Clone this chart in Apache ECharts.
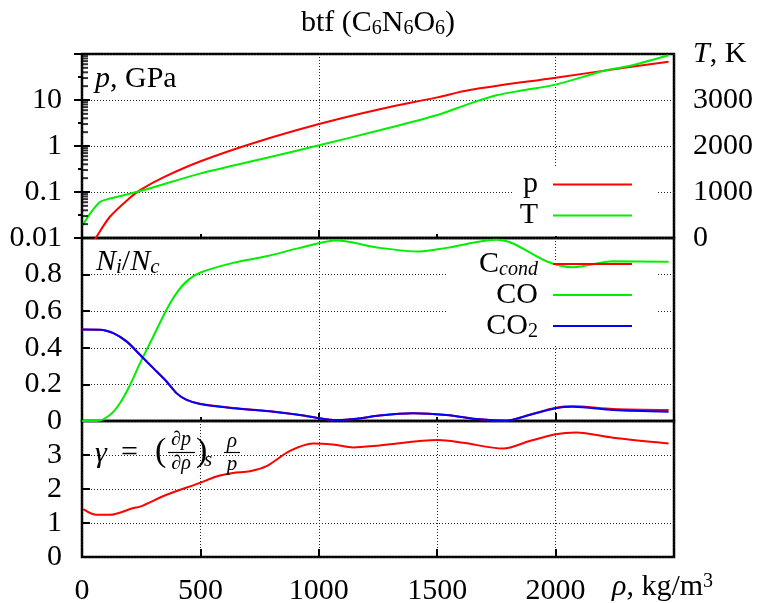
<!DOCTYPE html>
<html><head><meta charset="utf-8">
<script src="https://cdn.jsdelivr.net/npm/echarts@6/dist/echarts.min.js"></script>
<style>html,body{margin:0;padding:0;background:#fff}#c{width:760px;height:603px}</style>
</head><body><div id="c"></div>
<script>
// ---------- data ----------
const rhoP   = [40, 58, 118, 200, 245, 350, 498, 722, 1001, 1257, 1500, 1637, 2000, 2312, 2477];
const pGPa   = [0.007, 0.01, 0.029, 0.073, 0.11, 0.215, 0.46, 1.15, 3.0, 6.3, 11.4, 16.5, 30.5, 52, 68];

const rhoT   = [3, 34, 76, 118, 258, 498, 750, 1001, 1257, 1497, 1637, 1750, 1863, 2000, 2214, 2325, 2477];
const tK     = [276, 530, 783, 857, 1037, 1400, 1707, 2015, 2341, 2667, 2922, 3102, 3210, 3334, 3645, 3754, 3971];

const rhoCO  = [0, 62, 118, 160, 203, 245, 301, 357, 400, 442, 498, 638, 779, 920, 1075, 1257, 1426, 1539, 1750, 1820, 1961, 2073, 2242, 2477];
const nCO    = [0, 0, 0.033, 0.097, 0.197, 0.316, 0.462, 0.608, 0.70, 0.763, 0.81, 0.864, 0.90, 0.946, 0.986, 0.946, 0.926, 0.946, 0.99, 0.97, 0.873, 0.84, 0.873, 0.87];

const rhoCO2 = [0, 76, 132, 188, 245, 301, 357, 400, 442, 498, 638, 807, 920, 1001, 1075, 1160, 1257, 1398, 1539, 1679, 1792, 1890, 2000, 2073, 2242, 2477];
const nCO2   = [0.5, 0.499, 0.48, 0.435, 0.362, 0.289, 0.216, 0.151, 0.115, 0.093, 0.07, 0.051, 0.033, 0.015, 0.005, 0.012, 0.03, 0.042, 0.033, 0.009, 0.002, 0.033, 0.07, 0.078, 0.06, 0.051];

const rhoCc  = [0, 76, 132, 188, 245, 301, 357, 400, 442, 498, 638, 807, 920, 1001, 1075, 1160, 1257, 1398, 1539, 1679, 1792, 1890, 2000, 2073, 2242, 2477];
const nCcond = [0.5, 0.499, 0.48, 0.435, 0.362, 0.289, 0.216, 0.151, 0.115, 0.094, 0.071, 0.052, 0.033, 0.015, 0.005, 0.012, 0.03, 0.042, 0.033, 0.009, 0.002, 0.034, 0.072, 0.08, 0.066, 0.06];

const rhoG   = [5, 62, 118, 217, 245, 357, 498, 568, 638, 709, 779, 878, 976, 1060, 1145, 1257, 1503, 1609, 1778, 1890, 2000, 2087, 2242, 2477];
const gammaV = [1.41, 1.24, 1.24, 1.44, 1.48, 1.83, 2.18, 2.37, 2.47, 2.52, 2.67, 3.12, 3.34, 3.31, 3.22, 3.28, 3.44, 3.36, 3.19, 3.41, 3.61, 3.66, 3.51, 3.34];

// tick values
const pMinorTicks = [0.02,0.03,0.04,0.05,0.06,0.07,0.08,0.09, 0.2,0.3,0.4,0.5,0.6,0.7,0.8,0.9, 2,3,4,5,6,7,8,9, 20,30,40,50,60,70,80,90];

// ---------- styling ----------
const FONT = 'Liberation Serif';
const RED = '#ff0000', GREEN = '#00ee00', BLUE = '#0000ff';
const dotted = {show: true, lineStyle: {type: [1, 2], color: '#222', width: 1}};
const tickStyle = {color: '#000', width: 2};
const lblStyle = {color: '#000', fontFamily: FONT, fontSize: 30};
const pairs = (xs, ys) => xs.map((x, i) => [x, ys[i]]);

function xAx(grid, interval, len, split, labels) {
  return {
    gridIndex: grid, type: 'value', min: 0, max: 2500, interval: interval, position: 'bottom',
    axisLine: {show: false},
    axisTick: {show: true, inside: true, length: len, lineStyle: tickStyle},
    axisLabel: labels ? Object.assign({show: true, margin: 19, formatter: v => v >= 2500 ? '' : String(v)}, lblStyle) : {show: false},
    splitLine: split ? dotted : {show: false}
  };
}
function grid(top, height) {
  return {left: 82, width: 592, top: top, height: height, show: true, borderColor: '#000', borderWidth: 2.5,
          backgroundColor: 'transparent', containLabel: false, outerBoundsMode: 'none'};
}

const lineSeries = (name, xi, yi, data, color) => ({
  name, type: 'line', xAxisIndex: xi, yAxisIndex: yi, data, symbol: 'none', showSymbol: false,
  smooth: 0.3, clip: true,
  lineStyle: {color, width: 2}, itemStyle: {color}, z: 3
});

const legendText = {color: '#000', fontFamily: FONT, fontSize: 30, lineHeight: 31, padding: [0, 10, 0, 0],
  rich: {
    m: {fontFamily: FONT, fontSize: 30, lineHeight: 31, color: '#000'},
    si: {fontFamily: FONT, fontSize: 20, fontStyle: 'italic', lineHeight: 19, verticalAlign: 'bottom', color: '#000'},
    s: {fontFamily: FONT, fontSize: 20, lineHeight: 15, verticalAlign: 'bottom', color: '#000'}
  }};

const TXT = (x, y, text, extra) => ({
  type: 'text', x: x, y: y, z: 10, silent: true,
  style: Object.assign({text: text, fontFamily: FONT, fontSize: 30, fill: '#000', align: 'left', verticalAlign: 'middle'}, extra || {})
});
const richBase = {
  m: {fontFamily: FONT, fontSize: 30, lineHeight: 31},
  i: {fontFamily: FONT, fontSize: 30, lineHeight: 31, fontStyle: 'italic'},
  s: {fontFamily: FONT, fontSize: 20, lineHeight: 15, verticalAlign: 'bottom'},
  si: {fontFamily: FONT, fontSize: 21, lineHeight: 15, verticalAlign: 'bottom', fontStyle: 'italic'},
  u: {fontFamily: FONT, fontSize: 20, lineHeight: 14, verticalAlign: 'top'}
};
const LN = (x1, y1, x2, y2) => ({type: 'line', z: 10, silent: true, shape: {x1, y1, x2, y2}, style: {stroke: '#000', lineWidth: 1.2}});

const legendCommon = {orient: 'vertical', right: 123, align: 'right', icon: 'rect',
  itemWidth: 79, itemHeight: 2, itemGap: 0, selectedMode: false, textStyle: legendText};

const option = {
  animation: false,
  backgroundColor: '#fff',
  grid: [grid(54, 184), grid(238, 183), grid(421, 136)],
  xAxis: [
    xAx(0, 1000, 8, true, false), xAx(0, 500, 4, false, false),
    xAx(1, 1000, 8, true, false), xAx(1, 500, 4, false, false),
    xAx(2, 500, 8, true, true)
  ],
  yAxis: [
    {gridIndex: 0, type: 'log', logBase: 10, min: 0.01, max: 100, position: 'left',
     axisLine: {show: false}, axisTick: {show: true, inside: true, length: 8, lineStyle: tickStyle},
     axisLabel: Object.assign({margin: 20, formatter: v => v >= 99 ? '' : String(+(+v).toPrecision(3))}, lblStyle),
     splitLine: dotted, minorTick: {show: false}},
    {gridIndex: 0, type: 'value', min: 0, max: 4000, interval: 1000, position: 'right',
     axisLine: {show: false}, axisTick: {show: true, inside: true, length: 8, lineStyle: tickStyle},
     minorTick: {show: true, splitNumber: 2, length: 4, lineStyle: tickStyle},
     axisLabel: Object.assign({margin: 19, formatter: v => v >= 4000 ? '' : String(v)}, lblStyle),
     splitLine: {show: false}},
    {gridIndex: 1, type: 'value', min: 0, max: 1, interval: 0.2, position: 'left',
     axisLine: {show: false}, axisTick: {show: true, inside: true, length: 8, lineStyle: tickStyle},
     axisLabel: Object.assign({margin: 20, formatter: v => v >= 0.99 ? '' : String(+v.toFixed(1))}, lblStyle),
     splitLine: dotted},
    {gridIndex: 2, type: 'value', min: 0, max: 4, interval: 1, position: 'left',
     axisLine: {show: false}, axisTick: {show: true, inside: true, length: 8, lineStyle: tickStyle},
     axisLabel: Object.assign({margin: 20, formatter: v => v >= 4 ? '' : String(v)}, lblStyle),
     splitLine: dotted}
  ],
  legend: [
    Object.assign({data: ['p', 'T'], top: 164, formatter: n => '{m|' + n + '}'}, legendCommon),
    Object.assign({data: ['C_cond', 'CO', 'CO2'], top: 243.5,
     formatter: n => n === 'C_cond' ? '{m|C}{si|cond}' : (n === 'CO2' ? '{m|CO}{s|2}' : '{m|' + n + '}')}, legendCommon)
  ],
  series: [
    lineSeries('p', 0, 0, pairs(rhoP, pGPa), RED),
    lineSeries('T', 0, 1, pairs(rhoT, tK), GREEN),
    lineSeries('C_cond', 2, 2, pairs(rhoCc, nCcond), RED),
    lineSeries('CO', 2, 2, pairs(rhoCO, nCO), GREEN),
    lineSeries('CO2', 2, 2, pairs(rhoCO2, nCO2), BLUE),
    lineSeries('gamma', 4, 3, pairs(rhoG, gammaV), RED),
    {name: 'pMinor', type: 'scatter', xAxisIndex: 0, yAxisIndex: 0, silent: true, z: 6,
     data: pMinorTicks.map(v => [0, v]), symbol: 'rect', symbolSize: [6, 2], symbolOffset: [3, 0],
     itemStyle: {color: '#000'}, clip: false}
  ],
  graphic: [
    {type: 'rect', z: 1, silent: true, shape: {x: 513, y: 167, width: 144, height: 69}, style: {fill: '#fff'}},
    {type: 'rect', z: 1, silent: true, shape: {x: 447, y: 262, width: 210, height: 82}, style: {fill: '#fff'}},
    TXT(378, 23, '{m|btf (C}{s|6}{m|N}{s|6}{m|O}{s|6}{m|)}', {align: 'center', rich: richBase}),
    TXT(693, 54, '{i|T}{m|, K}', {rich: richBase}),
    TXT(612, 587, '{i|ρ}{m|, kg/m}{u|3}', {rich: richBase}),
    TXT(95, 79, '{i|p}{m|, GPa}', {rich: richBase}),
    TXT(96, 262, '{i|N}{si|i}{m|/}{i|N}{si|c}', {rich: richBase}),
    TXT(95, 454, 'γ', {fontStyle: 'italic'}),
    TXT(121, 453, '='),
    TXT(155, 452, '(', {fontSize: 34}),
    TXT(181, 440, '∂p', {align: 'center', fontSize: 20, fontStyle: 'italic'}),
    LN(168, 452.5, 195, 452.5),
    TXT(181, 464, '∂ρ', {align: 'center', fontSize: 20, fontStyle: 'italic'}),
    TXT(196, 452, ')', {fontSize: 34}),
    TXT(204, 460, 's', {fontSize: 21, fontStyle: 'italic'}),
    TXT(232, 441, 'ρ', {align: 'center', fontSize: 21, fontStyle: 'italic'}),
    LN(224, 452.5, 240, 452.5),
    TXT(232, 464, 'p', {align: 'center', fontSize: 21, fontStyle: 'italic'})
  ]
};

const chart = echarts.init(document.getElementById('c'), null, {renderer: 'canvas'});
chart.setOption(option);
</script>
</body></html>
